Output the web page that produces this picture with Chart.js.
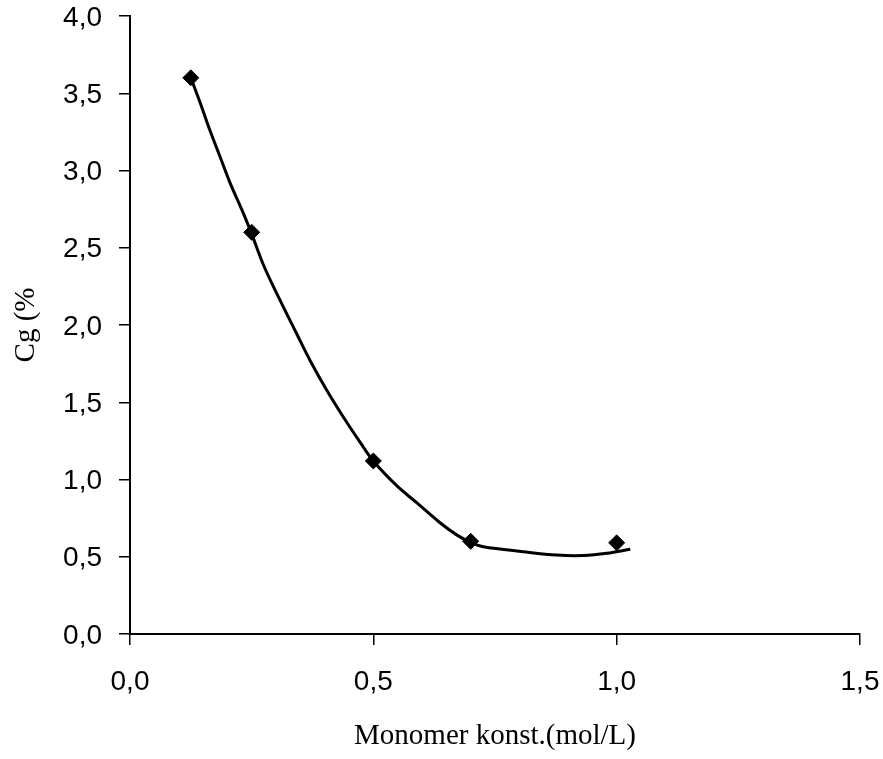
<!DOCTYPE html>
<html>
<head>
<meta charset="utf-8">
<script src="https://cdn.jsdelivr.net/npm/chart.js@4"></script>
<style>
  html, body { margin: 0; padding: 0; background: #fff; }
</style>
</head>
<body>
<canvas id="chart" width="883" height="759"></canvas>
<script>
// measured points (monomer concentration vs Cg)
var monomerConc = [0.125, 0.25, 0.5, 0.7, 1.0];
var cgValues = [3.6, 2.6, 1.12, 0.6, 0.59];

// hand drawn fit line
var curveX = [0.125, 0.144, 0.164, 0.185, 0.206, 0.233, 0.250, 0.274, 0.308, 0.343, 0.370, 0.404, 0.438,
    0.473, 0.500, 0.548, 0.589, 0.637, 0.672, 0.702, 0.726, 0.808, 0.877, 0.932, 0.980, 1.028];
var curveY = [3.60, 3.44, 3.262, 3.089, 2.917, 2.723, 2.59, 2.39, 2.162, 1.94, 1.77, 1.579, 1.406,
    1.24, 1.12, 0.96, 0.85, 0.72, 0.64, 0.59, 0.565, 0.533, 0.511, 0.508, 0.522, 0.548];

var xTicks = [0, 0.5, 1.0, 1.5];
var yTicks = [0, 0.5, 1.0, 1.5, 2.0, 2.5, 3.0, 3.5, 4.0];

var xTitle = 'Monomer konst.(mol/L)';
var yTitle = 'Cg (%';

function toPoints(xs, ys) {
    return xs.map(function (x, i) {
        return {x: x, y: ys[i]};
    });
}

function commaLabel(value) {
    return Number(value).toFixed(1).replace('.', ',');
}

var tickFont = {family: '"Liberation Sans", Arial, sans-serif', size: 28};
var titleFont = {family: '"Liberation Serif", "Times New Roman", serif', size: 29, lineHeight: 1.2};

var axisGrid = {
    display: true,
    drawOnChartArea: false,
    drawTicks: true,
    tickLength: 11,
    color: '#000',
    lineWidth: 1.5
};

var ctx = document.getElementById('chart');
var config = {
    type: 'scatter',
    data: {
        datasets: [{
            label: 'fit',
            data: toPoints(curveX, curveY),
            showLine: true,
            borderColor: '#000',
            borderWidth: 3,
            pointRadius: 0,
            tension: 0.35,
            order: 2
        }, {
            label: 'Cg',
            data: toPoints(monomerConc, cgValues),
            showLine: false,
            pointStyle: 'rectRot',
            pointRadius: 8,
            backgroundColor: '#000',
            borderColor: '#000',
            order: 1
        }]
    },
    options: {
        responsive: false,
        animation: false,
        layout: {
            autoPadding: false,
            padding: {top: 16, right: 23, bottom: 0, left: 0}
        },
        plugins: {
            legend: {display: false},
            tooltip: {enabled: false}
        },
        scales: {
            x: {
                type: 'linear',
                min: 0,
                max: 1.5,
                afterBuildTicks: function (scale) {
                    scale.ticks = xTicks.map(function (v) {
                        return {value: v};
                    });
                },
                afterFit: function (scale) {
                    // fixed plot box, the layout padding handles the end labels
                    scale.height = 125;
                    scale.paddingLeft = 0;
                    scale.paddingRight = 0;
                },
                grid: axisGrid,
                border: {display: true, color: '#000', width: 2},
                ticks: {
                    color: '#000',
                    font: tickFont,
                    padding: 20,
                    maxRotation: 0,
                    callback: commaLabel
                },
                title: {
                    display: true,
                    text: xTitle,
                    color: '#000',
                    font: titleFont,
                    padding: {top: 0, bottom: 5}
                }
            },
            y: {
                type: 'linear',
                min: 0,
                max: 4,
                afterBuildTicks: function (scale) {
                    scale.ticks = yTicks.map(function (v) {
                        return {value: v};
                    });
                },
                afterFit: function (scale) {
                    scale.width = 130;
                    scale.paddingTop = 0;
                    scale.paddingBottom = 0;
                },
                grid: axisGrid,
                border: {display: true, color: '#000', width: 2},
                ticks: {
                    color: '#000',
                    font: tickFont,
                    padding: 17,
                    labelOffset: 2,
                    callback: commaLabel
                },
                title: {
                    display: true,
                    text: yTitle,
                    color: '#000',
                    font: titleFont,
                    padding: {top: 9, bottom: 0}
                }
            }
        }
    }
};
var chartreport = new Chart(ctx, config);
</script>
</body>
</html>
